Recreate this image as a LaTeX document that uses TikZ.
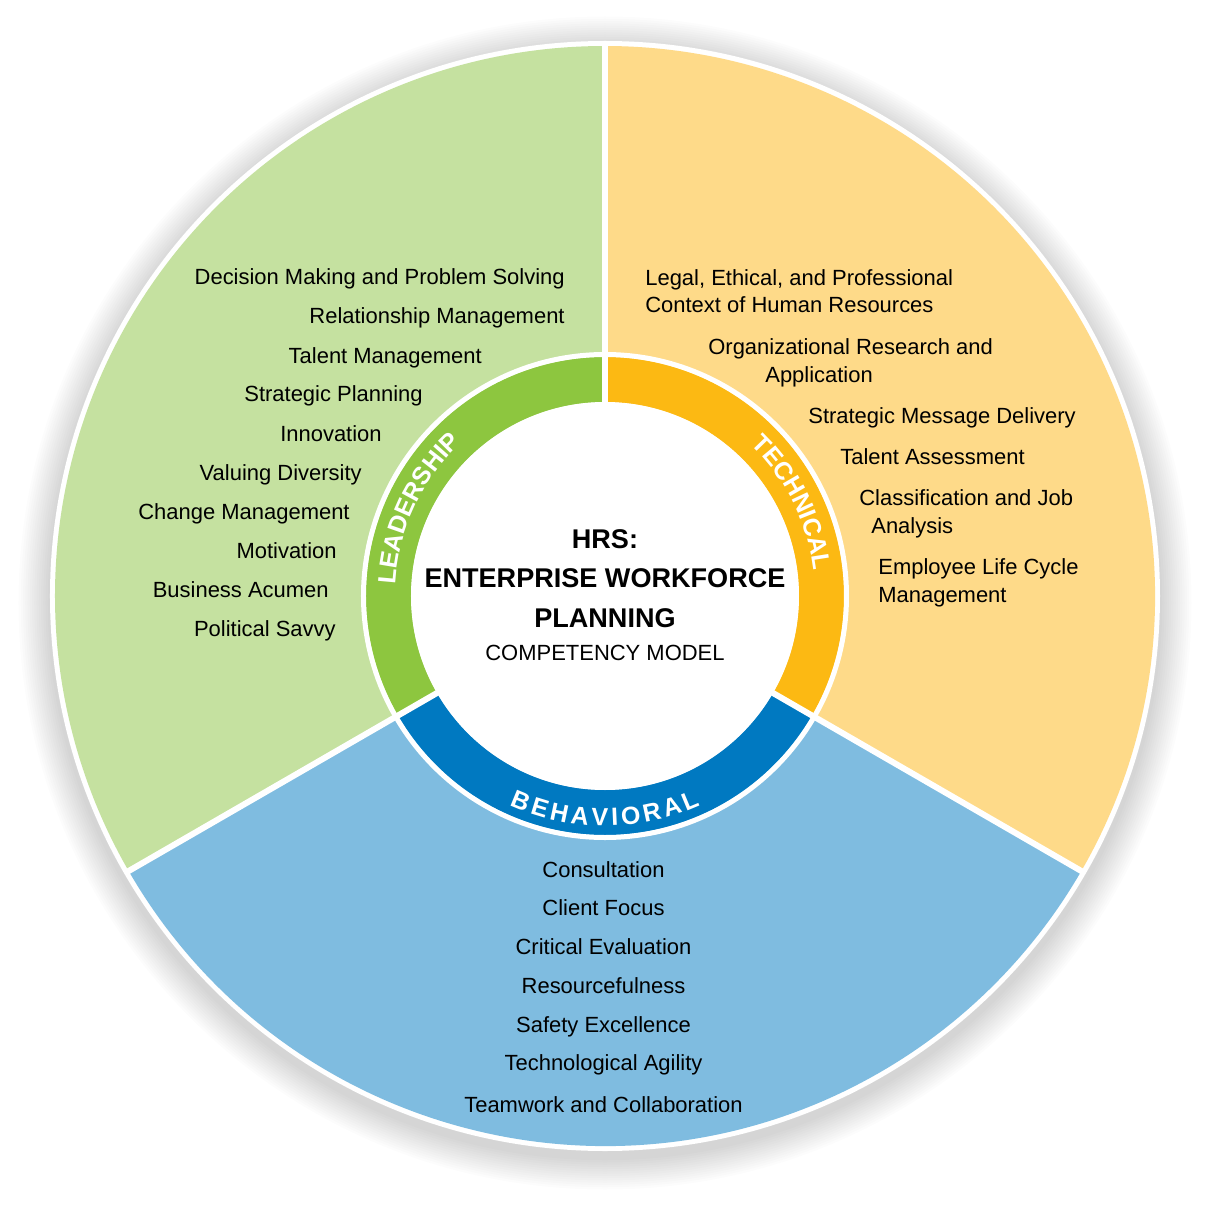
\documentclass[tikz,border=0pt]{standalone}
\usepackage{fontspec}
\setmainfont{Liberation Sans}
\newfontfamily\ringfont[LetterSpace=5]{Liberation Sans Bold}
\usetikzlibrary{decorations.text}

\definecolor{leadlight}{HTML}{C5E1A0}
\definecolor{leadring}{HTML}{8DC63F}
\definecolor{techlight}{HTML}{FEDA89}
\definecolor{techring}{HTML}{FCB913}
\definecolor{behavlight}{HTML}{7FBCE0}
\definecolor{behavring}{HTML}{0079C1}

\newcommand{\ringtext}{\ringfont\fontsize{14.2}{17}\selectfont\color{white}}
\newcommand{\itemfont}{\fontsize{12.5}{15.9}\selectfont}

\begin{document}
\begin{tikzpicture}[
    lead/.style={anchor=base east, inner sep=0pt, font=\itemfont},
    tech/.style={anchor=base west, inner sep=0pt, align=left, font=\itemfont},
    behav/.style={anchor=base, inner sep=0pt, font=\itemfont},
    ringlabel/.style 2 args={decorate, decoration={text along path, text align={#1}, text={|\ringtext|#2}}}
]
    \useasboundingbox (-12.1,-12.32) rectangle (12.14,11.92);
    % Shadow
    \foreach \i in {1,...,14}
        \fill[black, opacity=0.012] (0,-0.14) circle ({11.1+0.045*\i});
    \fill[white] (0,0) circle (11.1);
    % Sectors
    \fill[leadlight] (0,0) -- (90:11) arc[start angle=90, end angle=210, radius=11] -- cycle;
    \fill[techlight] (0,0) -- (-30:11) arc[start angle=-30, end angle=90, radius=11] -- cycle;
    \fill[behavlight] (0,0) -- (210:11) arc[start angle=210, end angle=330, radius=11] -- cycle;
    % Ring
    \fill[leadring] (90:4.78) arc[start angle=90, end angle=210, radius=4.78]
        -- (210:3.88) arc[start angle=210, end angle=90, radius=3.88] -- cycle;
    \fill[techring] (-30:4.78) arc[start angle=-30, end angle=90, radius=4.78]
        -- (90:3.88) arc[start angle=90, end angle=-30, radius=3.88] -- cycle;
    \fill[behavring] (210:4.78) arc[start angle=210, end angle=330, radius=4.78]
        -- (330:3.88) arc[start angle=330, end angle=210, radius=3.88] -- cycle;
    \draw[white, line width=0.1cm] (0,0) circle (4.83);
    % Separators
    \draw[white, line width=0.12cm] (0,0) -- (90:11.05);
    \draw[white, line width=0.12cm] (0,0) -- (-30:11.05);
    \draw[white, line width=0.12cm] (0,0) -- (210:11.05);
    \fill[white] (0,0) circle (3.88);
    % Ring labels
    \path[ringlabel={center}{LEADERSHIP}] (200:4.2) arc[start angle=200, end angle=110, radius=4.2];
    \path[ringlabel={center}{TECHNICAL}] (71.5:4.2) arc[start angle=71.5, end angle=-18.5, radius=4.2];
    \path[ringlabel={fit to path}{BEHAVIORAL}] (245.5:4.6) arc[start angle=245.5, end angle=294.5, radius=4.6];
    % Centre
    \node (title) at (0,-0.62) [anchor=base, inner sep=0pt, align=center,
        font=\fontsize{15.4}{22.2}\selectfont\bfseries]
        {HRS:\\ENTERPRISE WORKFORCE\\PLANNING};
    \node (model) at (0,-1.28) [behav] {COMPETENCY MODEL};
    % Leadership
    \node (dm) at (-0.80,6.22) [lead] {Decision Making and Problem Solving};
    \node (rm) at (-0.80,5.44) [lead] {Relationship Management};
    \node (tm) at (-2.46,4.66) [lead] {Talent Management};
    \node (sp) at (-3.64,3.88) [lead] {Strategic Planning};
    \node (inn) at (-4.46,3.10) [lead] {Innovation};
    \node (vd) at (-4.86,2.32) [lead] {Valuing Diversity};
    \node (cm) at (-5.10,1.54) [lead] {Change Management};
    \node (mot) at (-5.36,0.76) [lead] {Motivation};
    \node (ba) at (-5.52,-0.02) [lead] {Business Acumen};
    \node (ps) at (-5.38,-0.80) [lead] {Political Savvy};
    % Technical
    \node (legal) at (0.80,5.66) [tech] {Legal, Ethical, and Professional\\Context of Human Resources};
    \node (orgres) at (2.06,4.28) [tech] {Organizational Research and\\\hspace*{1.14cm}Application};
    \node (smd) at (4.06,3.46) [tech] {Strategic Message Delivery};
    \node (ta) at (4.70,2.64) [tech] {Talent Assessment};
    \node (cja) at (5.08,1.26) [tech] {Classification and Job\\\hspace*{0.24cm}Analysis};
    \node (elcm) at (5.46,-0.12) [tech] {Employee Life Cycle\\Management};
    % Behavioral
    \node (cons) at (-0.03,-5.62) [behav] {Consultation};
    \node (cf) at (-0.03,-6.38) [behav] {Client Focus};
    \node (ce) at (-0.03,-7.16) [behav] {Critical Evaluation};
    \node (res) at (-0.03,-7.94) [behav] {Resourcefulness};
    \node (se) at (-0.03,-8.72) [behav] {Safety Excellence};
    \node (tag) at (-0.03,-9.48) [behav] {Technological Agility};
    \node (tc) at (-0.03,-10.32) [behav] {Teamwork and Collaboration};
\end{tikzpicture}
\end{document}
